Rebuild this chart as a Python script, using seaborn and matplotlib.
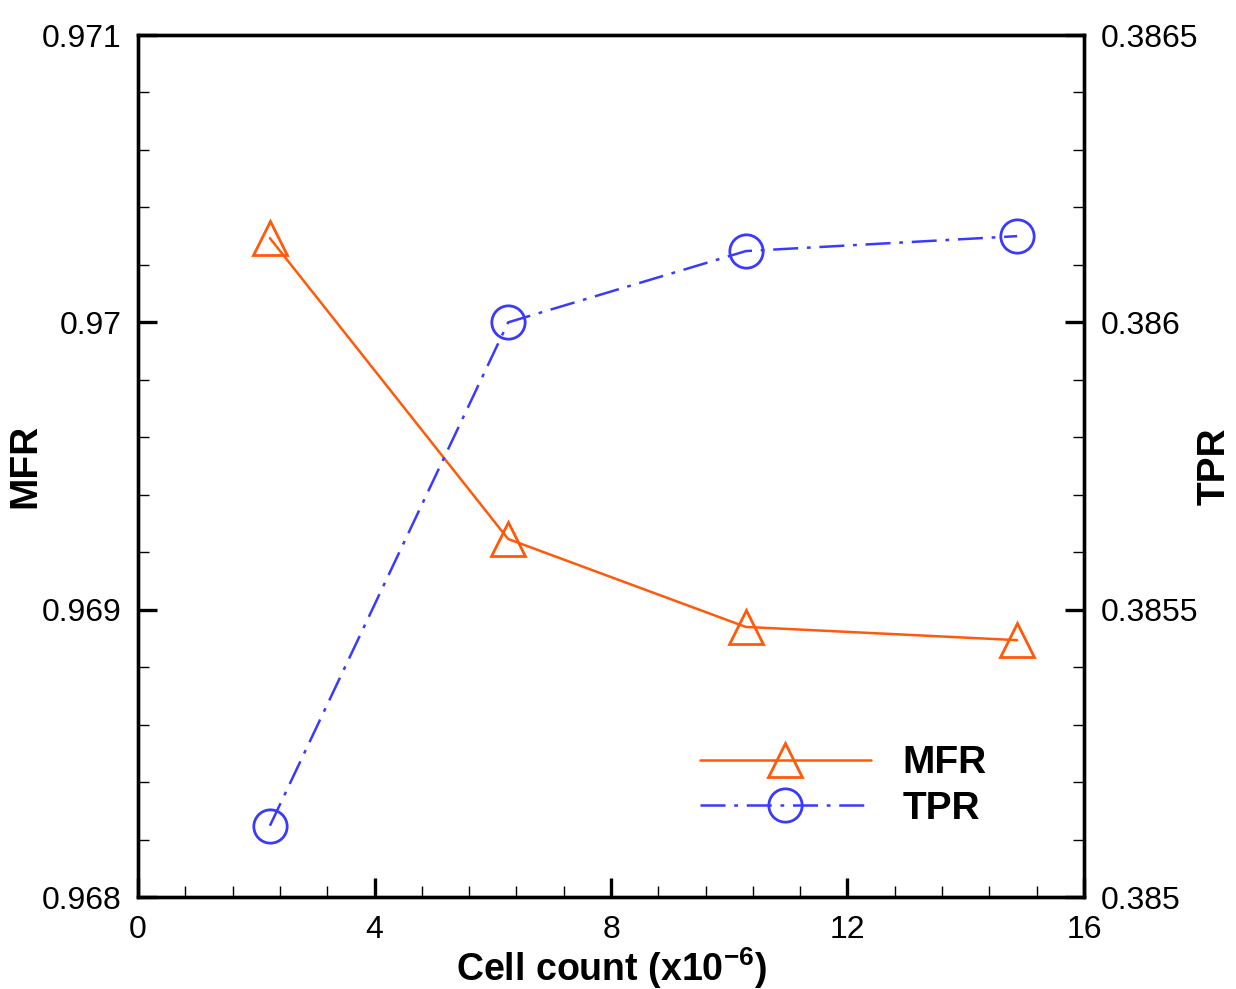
import matplotlib
matplotlib.use("Agg")
import matplotlib.pyplot as plt
from matplotlib.ticker import MultipleLocator
import seaborn as sns
import pandas as pd

cell_count = [2.23, 6.26, 10.28, 14.87]
mfr = [0.970293, 0.969246, 0.96894, 0.968894]
tpr = [0.385124, 0.386000, 0.386124, 0.38615]

sns.set_style("ticks")
plt.rcParams["font.family"] = ["Liberation Sans", "DejaVu Sans"]
plt.rcParams["mathtext.fontset"] = "custom"
plt.rcParams["mathtext.rm"] = "Liberation Sans:bold"
plt.rcParams["mathtext.bf"] = "Liberation Sans:bold"
for key in ["text.color", "axes.labelcolor", "xtick.color", "ytick.color", "axes.edgecolor"]:
    plt.rcParams[key] = "black"

df = pd.DataFrame({"cells": cell_count, "MFR": mfr, "TPR": tpr})

orange = "#ff5a0a"
blue = "#3a3aff"

fig = plt.figure(figsize=(12.36, 9.89), dpi=100)
ax = fig.add_axes([0.1117, 0.093, 0.7653, 0.8716])
ax2 = ax.twinx()

sns.lineplot(data=df, x="cells", y="MFR", ax=ax, color=orange, lw=1.8,
             marker="^", markersize=24, markerfacecolor="none",
             markeredgecolor=orange, markeredgewidth=2.0, label="MFR", legend=False)
sns.lineplot(data=df, x="cells", y="TPR", ax=ax2, color=blue, lw=1.8,
             linestyle=(0, (10, 3.5, 1.5, 3.5)),
             marker="o", markersize=24, markerfacecolor="none",
             markeredgecolor=blue, markeredgewidth=2.0, label="TPR", legend=False)

ax.set_xlim(0, 16)
ax.set_ylim(0.968, 0.971)
ax2.set_ylim(0.385, 0.3865)

ax.xaxis.set_minor_locator(MultipleLocator(0.8))
ax.yaxis.set_minor_locator(MultipleLocator(0.0002))
ax2.yaxis.set_minor_locator(MultipleLocator(0.0001))

ax.set_xticks([0, 4, 8, 12, 16])
ax.set_xticklabels(["0", "4", "8", "12", "16"])
ax.set_yticks([0.968, 0.969, 0.970, 0.971])
ax.set_yticklabels(["0.968", "0.969", "0.97", "0.971"])
ax2.set_yticks([0.385, 0.3855, 0.386, 0.3865])
ax2.set_yticklabels(["0.385", "0.3855", "0.386", "0.3865"])

for a in (ax, ax2):
    for s in a.spines.values():
        s.set_visible(True)
        s.set_linewidth(2.4)
        s.set_color("black")
    a.tick_params(which="major", direction="in", length=14, width=2.4,
                  labelsize=23, pad=12)
    a.tick_params(which="minor", direction="in", length=8, width=1.0)
ax.tick_params(axis="x", pad=13)
ax.tick_params(axis="y", which="both", right=False)
ax.tick_params(axis="x", which="both", top=False)

ax.set_xlabel(r"Cell count (x10$^{-6}$)", fontsize=27, fontweight="bold", va="center")
ax.set_ylabel("MFR", fontsize=28, fontweight="bold", va="center")
ax2.set_ylabel("TPR", fontsize=28, fontweight="bold", va="center")
ax.xaxis.set_label_coords(0.5, -0.083)
ax.yaxis.set_label_coords(-0.1195, 0.5)
ax2.yaxis.set_label_coords(1.1385, 0.5)

h1, l1 = ax.get_legend_handles_labels()
h2, l2 = ax2.get_legend_handles_labels()
leg = ax2.legend(h1 + h2, l1 + l2, loc="upper left", bbox_to_anchor=(0.594, 0.176),
                 frameon=False, borderpad=0, borderaxespad=0,
                 handlelength=4.4, handletextpad=0.8,
                 labelspacing=0.25, markerscale=1.0,
                 prop={"weight": "bold", "size": 28})

fig.savefig("out.png", dpi=100)
